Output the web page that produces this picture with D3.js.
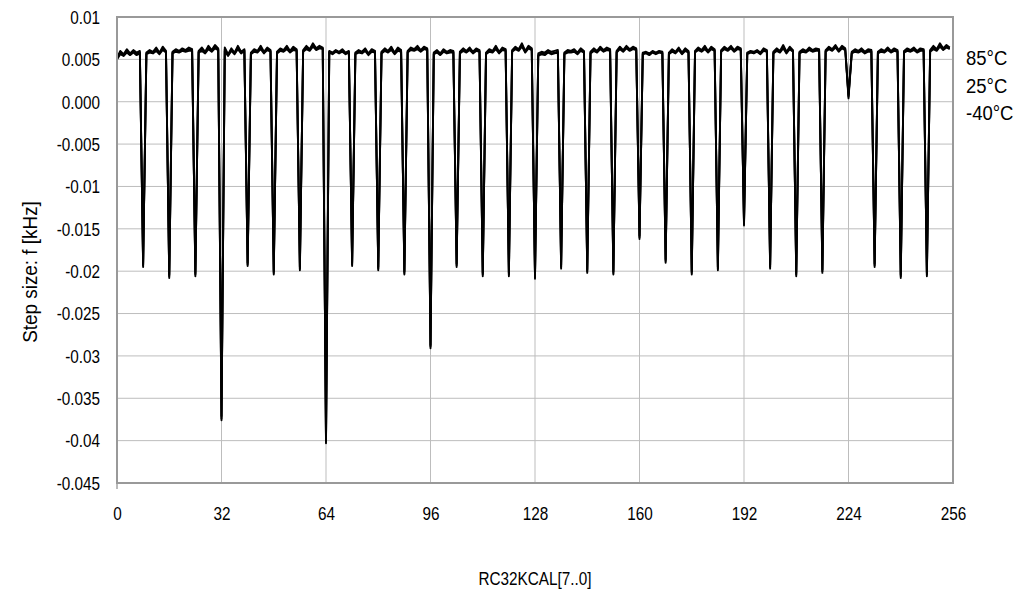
<!DOCTYPE html>
<html>
<head>
<meta charset="utf-8">
<script src="https://cdn.jsdelivr.net/npm/d3@7"></script>
<style>
  html, body { margin: 0; padding: 0; background: #fff; }
  svg { display: block; font-family: "Liberation Sans", Arial, Helvetica, sans-serif; }
</style>
</head>
<body>
<div id="chart"></div>
<script>
// step size per code, rows of 8 codes (8k .. 8k+7)
const step85 = [
  0.0052, 0.0060, 0.0056, 0.0062, 0.0057, 0.0061, 0.0058, 0.0060,
  -0.0193, 0.0058, 0.0061, 0.0059, 0.0064, 0.0058, 0.0065, 0.0060,
  -0.0206, 0.0059, 0.0062, 0.0060, 0.0063, 0.0061, 0.0064, 0.0062,
  -0.0204, 0.0060, 0.0064, 0.0059, 0.0066, 0.0061, 0.0067, 0.0063,
  -0.0374, 0.0064, 0.0056, 0.0063, 0.0058, 0.0066, 0.0059, 0.0062,
  -0.0192, 0.0058, 0.0062, 0.0060, 0.0066, 0.0059, 0.0064, 0.0061,
  -0.0202, 0.0059, 0.0063, 0.0061, 0.0066, 0.0060, 0.0065, 0.0062,
  -0.0197, 0.0061, 0.0066, 0.0062, 0.0069, 0.0063, 0.0066, 0.0064,
  -0.0401, 0.0060, 0.0058, 0.0061, 0.0059, 0.0062, 0.0058, 0.0060,
  -0.0192, 0.0058, 0.0061, 0.0059, 0.0063, 0.0057, 0.0062, 0.0060,
  -0.0197, 0.0059, 0.0063, 0.0060, 0.0065, 0.0058, 0.0064, 0.0061,
  -0.0202, 0.0060, 0.0064, 0.0062, 0.0066, 0.0061, 0.0065, 0.0063,
  -0.0289, 0.0058, 0.0061, 0.0057, 0.0062, 0.0059, 0.0061, 0.0060,
  -0.0193, 0.0059, 0.0063, 0.0060, 0.0064, 0.0059, 0.0063, 0.0061,
  -0.0204, 0.0058, 0.0062, 0.0060, 0.0066, 0.0059, 0.0064, 0.0062,
  -0.0204, 0.0061, 0.0065, 0.0062, 0.0069, 0.0060, 0.0066, 0.0063,
  -0.0207, 0.0057, 0.0059, 0.0058, 0.0061, 0.0059, 0.0060, 0.0061,
  -0.0195, 0.0058, 0.0061, 0.0060, 0.0062, 0.0058, 0.0063, 0.0060,
  -0.0200, 0.0059, 0.0063, 0.0060, 0.0065, 0.0061, 0.0064, 0.0062,
  -0.0202, 0.0060, 0.0065, 0.0061, 0.0066, 0.0062, 0.0065, 0.0063,
  -0.0160, 0.0058, 0.0059, 0.0057, 0.0060, 0.0058, 0.0060, 0.0059,
  -0.0188, 0.0058, 0.0062, 0.0059, 0.0064, 0.0058, 0.0063, 0.0060,
  -0.0202, 0.0060, 0.0064, 0.0061, 0.0066, 0.0060, 0.0065, 0.0062,
  -0.0197, 0.0061, 0.0065, 0.0062, 0.0066, 0.0061, 0.0065, 0.0063,
  -0.0144, 0.0058, 0.0060, 0.0059, 0.0061, 0.0058, 0.0063, 0.0061,
  -0.0195, 0.0059, 0.0063, 0.0060, 0.0067, 0.0059, 0.0065, 0.0061,
  -0.0204, 0.0059, 0.0062, 0.0060, 0.0064, 0.0061, 0.0063, 0.0062,
  -0.0200, 0.0061, 0.0065, 0.0062, 0.0067, 0.0061, 0.0066, 0.0063,
  0.0006, 0.0059, 0.0062, 0.0060, 0.0063, 0.0059, 0.0062, 0.0061,
  -0.0193, 0.0059, 0.0062, 0.0060, 0.0064, 0.0060, 0.0063, 0.0061,
  -0.0206, 0.0060, 0.0063, 0.0061, 0.0064, 0.0060, 0.0063, 0.0062,
  -0.0204, 0.0061, 0.0066, 0.0062, 0.0069, 0.0063, 0.0067, 0.0064
];
const step25 = [
  0.0051, 0.0058, 0.0055, 0.0060, 0.0056, 0.0059, 0.0057, 0.0058,
  -0.0191, 0.0057, 0.0059, 0.0058, 0.0062, 0.0057, 0.0063, 0.0059,
  -0.0204, 0.0058, 0.0060, 0.0059, 0.0061, 0.0060, 0.0062, 0.0061,
  -0.0202, 0.0059, 0.0062, 0.0058, 0.0064, 0.0060, 0.0065, 0.0062,
  -0.0371, 0.0062, 0.0055, 0.0061, 0.0057, 0.0064, 0.0058, 0.0061,
  -0.0190, 0.0057, 0.0060, 0.0059, 0.0064, 0.0058, 0.0062, 0.0060,
  -0.0200, 0.0058, 0.0061, 0.0060, 0.0064, 0.0059, 0.0063, 0.0061,
  -0.0195, 0.0060, 0.0064, 0.0061, 0.0067, 0.0062, 0.0064, 0.0063,
  -0.0399, 0.0059, 0.0057, 0.0060, 0.0058, 0.0060, 0.0057, 0.0059,
  -0.0190, 0.0057, 0.0059, 0.0058, 0.0061, 0.0056, 0.0060, 0.0059,
  -0.0195, 0.0058, 0.0061, 0.0059, 0.0063, 0.0057, 0.0062, 0.0060,
  -0.0200, 0.0059, 0.0062, 0.0061, 0.0064, 0.0060, 0.0063, 0.0062,
  -0.0287, 0.0057, 0.0059, 0.0056, 0.0060, 0.0058, 0.0059, 0.0059,
  -0.0191, 0.0058, 0.0061, 0.0059, 0.0062, 0.0058, 0.0061, 0.0060,
  -0.0202, 0.0057, 0.0060, 0.0059, 0.0064, 0.0058, 0.0062, 0.0061,
  -0.0202, 0.0060, 0.0063, 0.0061, 0.0067, 0.0059, 0.0064, 0.0062,
  -0.0205, 0.0055, 0.0057, 0.0056, 0.0059, 0.0057, 0.0058, 0.0059,
  -0.0193, 0.0057, 0.0059, 0.0059, 0.0060, 0.0057, 0.0061, 0.0059,
  -0.0198, 0.0058, 0.0061, 0.0059, 0.0063, 0.0060, 0.0062, 0.0061,
  -0.0200, 0.0059, 0.0063, 0.0060, 0.0064, 0.0061, 0.0063, 0.0062,
  -0.0158, 0.0057, 0.0058, 0.0056, 0.0059, 0.0057, 0.0059, 0.0058,
  -0.0186, 0.0057, 0.0060, 0.0058, 0.0062, 0.0057, 0.0061, 0.0059,
  -0.0200, 0.0059, 0.0062, 0.0060, 0.0064, 0.0059, 0.0063, 0.0061,
  -0.0195, 0.0060, 0.0063, 0.0061, 0.0064, 0.0060, 0.0063, 0.0062,
  -0.0142, 0.0057, 0.0059, 0.0058, 0.0060, 0.0057, 0.0061, 0.0060,
  -0.0193, 0.0058, 0.0061, 0.0059, 0.0065, 0.0058, 0.0063, 0.0060,
  -0.0202, 0.0058, 0.0060, 0.0059, 0.0062, 0.0060, 0.0061, 0.0061,
  -0.0198, 0.0060, 0.0063, 0.0061, 0.0065, 0.0060, 0.0064, 0.0062,
  0.0008, 0.0058, 0.0060, 0.0059, 0.0061, 0.0058, 0.0060, 0.0060,
  -0.0191, 0.0058, 0.0060, 0.0059, 0.0062, 0.0059, 0.0061, 0.0060,
  -0.0204, 0.0059, 0.0061, 0.0060, 0.0062, 0.0059, 0.0061, 0.0061,
  -0.0202, 0.0060, 0.0064, 0.0061, 0.0067, 0.0062, 0.0065, 0.0063
];
const stepM40 = [
  0.0050, 0.0056, 0.0054, 0.0058, 0.0055, 0.0058, 0.0055, 0.0057,
  -0.0195, 0.0056, 0.0058, 0.0057, 0.0060, 0.0056, 0.0061, 0.0058,
  -0.0208, 0.0057, 0.0059, 0.0058, 0.0060, 0.0059, 0.0060, 0.0060,
  -0.0206, 0.0058, 0.0060, 0.0057, 0.0062, 0.0059, 0.0063, 0.0061,
  -0.0376, 0.0060, 0.0054, 0.0060, 0.0056, 0.0062, 0.0057, 0.0060,
  -0.0194, 0.0056, 0.0059, 0.0058, 0.0062, 0.0057, 0.0061, 0.0059,
  -0.0204, 0.0057, 0.0060, 0.0059, 0.0062, 0.0058, 0.0061, 0.0060,
  -0.0199, 0.0059, 0.0062, 0.0060, 0.0065, 0.0061, 0.0063, 0.0062,
  -0.0403, 0.0058, 0.0056, 0.0059, 0.0057, 0.0059, 0.0056, 0.0058,
  -0.0194, 0.0056, 0.0058, 0.0057, 0.0060, 0.0055, 0.0059, 0.0058,
  -0.0199, 0.0057, 0.0060, 0.0058, 0.0061, 0.0056, 0.0060, 0.0059,
  -0.0204, 0.0058, 0.0061, 0.0060, 0.0062, 0.0059, 0.0062, 0.0061,
  -0.0291, 0.0056, 0.0058, 0.0055, 0.0059, 0.0057, 0.0058, 0.0058,
  -0.0195, 0.0057, 0.0060, 0.0058, 0.0061, 0.0057, 0.0060, 0.0059,
  -0.0206, 0.0056, 0.0059, 0.0058, 0.0062, 0.0057, 0.0061, 0.0060,
  -0.0206, 0.0059, 0.0062, 0.0060, 0.0065, 0.0058, 0.0063, 0.0061,
  -0.0209, 0.0054, 0.0056, 0.0055, 0.0058, 0.0056, 0.0057, 0.0058,
  -0.0197, 0.0056, 0.0058, 0.0058, 0.0059, 0.0056, 0.0060, 0.0058,
  -0.0202, 0.0057, 0.0060, 0.0058, 0.0062, 0.0059, 0.0061, 0.0060,
  -0.0204, 0.0058, 0.0062, 0.0059, 0.0063, 0.0060, 0.0062, 0.0061,
  -0.0162, 0.0056, 0.0057, 0.0055, 0.0058, 0.0056, 0.0058, 0.0057,
  -0.0190, 0.0056, 0.0059, 0.0057, 0.0061, 0.0056, 0.0060, 0.0058,
  -0.0204, 0.0058, 0.0061, 0.0059, 0.0062, 0.0058, 0.0062, 0.0060,
  -0.0199, 0.0059, 0.0062, 0.0060, 0.0063, 0.0059, 0.0062, 0.0061,
  -0.0146, 0.0056, 0.0058, 0.0057, 0.0059, 0.0056, 0.0060, 0.0059,
  -0.0197, 0.0057, 0.0060, 0.0058, 0.0063, 0.0057, 0.0062, 0.0059,
  -0.0206, 0.0057, 0.0059, 0.0058, 0.0061, 0.0059, 0.0060, 0.0060,
  -0.0202, 0.0059, 0.0062, 0.0060, 0.0064, 0.0059, 0.0063, 0.0061,
  0.0004, 0.0057, 0.0059, 0.0058, 0.0060, 0.0057, 0.0059, 0.0059,
  -0.0195, 0.0057, 0.0059, 0.0058, 0.0061, 0.0058, 0.0060, 0.0059,
  -0.0208, 0.0058, 0.0060, 0.0059, 0.0061, 0.0058, 0.0060, 0.0060,
  -0.0206, 0.0059, 0.0062, 0.0060, 0.0065, 0.0061, 0.0064, 0.0062
];
const seriesNames = ['85°C', '25°C', '-40°C'];
const yTicks = [0.01, 0.005, 0, -0.005, -0.01, -0.015, -0.02, -0.025, -0.03, -0.035, -0.04, -0.045];
const yTickLabels = ['0.01', '0.005', '0.000', '-0.005', '-0.01', '-0.015', '-0.02', '-0.025', '-0.03', '-0.035', '-0.04', '-0.045'];
const xTicks = [0, 32, 64, 96, 128, 160, 192, 224, 256];

const width = 1016, height = 596;
const margin = { top: 17, right: 63, bottom: 113, left: 117 };
const innerW = width - margin.left - margin.right;
const innerH = height - margin.top - margin.bottom;
const narrow = 0.85; // the original lettering is a condensed face

const svg = d3.select('#chart').append('svg').attr('width', width).attr('height', height);
const g = svg.append('g').attr('transform', `translate(${margin.left},${margin.top})`);

const x = d3.scaleLinear([0, 256], [0, innerW]);
const y = d3.scaleLinear([-0.045, 0.01], [innerH, 0]);

// grid
g.append('g').selectAll('line').data(yTicks.slice(1, -1)).join('line')
  .attr('x1', 0).attr('x2', innerW).attr('y1', (d) => y(d)).attr('y2', (d) => y(d))
  .attr('stroke', '#bdbdbd').attr('stroke-width', 1);
g.append('g').selectAll('line').data(xTicks.slice(1, -1)).join('line')
  .attr('y1', 0).attr('y2', innerH).attr('x1', (d) => x(d)).attr('x2', (d) => x(d))
  .attr('stroke', '#bdbdbd').attr('stroke-width', 1);

// axes (labels only, ticks hidden)
const yAxis = g.append('g').call(d3.axisLeft(y).tickValues(yTicks).tickSize(0).tickPadding(0)
  .tickFormat((d, i) => yTickLabels[i]));
const xAxis = g.append('g').attr('transform', `translate(0,${innerH})`)
  .call(d3.axisBottom(x).tickValues(xTicks).tickSize(0).tickPadding(0));
[yAxis, xAxis].forEach((a) => {
  a.select('.domain').remove();
  a.selectAll('text').attr('font-size', 18).attr('fill', '#000')
    .attr('font-family', '"Liberation Sans", Arial, sans-serif');
});
yAxis.selectAll('text').attr('x', null).attr('dy', '0.35em')
  .attr('transform', `translate(-17,0) scale(${narrow},1)`);
xAxis.selectAll('text').attr('y', null).attr('dy', '0.35em')
  .attr('transform', `translate(0,31) scale(${narrow},1)`);
g.append('line').attr('x1', x(0)).attr('x2', x(0)).attr('y1', innerH).attr('y2', innerH + 6)
  .attr('stroke', '#777').attr('stroke-width', 1);

// series lines
const line = d3.line().x((d, i) => x(i)).y((d) => y(d));
[step85, step25, stepM40].forEach((s) => {
  g.append('path').datum(s).attr('fill', 'none').attr('stroke', '#000')
    .attr('stroke-width', 1.9).attr('stroke-linejoin', 'round').attr('d', line);
});

// frame
g.append('rect').attr('width', innerW).attr('height', innerH)
  .attr('fill', 'none').attr('stroke', '#999').attr('stroke-width', 2);

// legend labels
svg.append('g').selectAll('text').data(seriesNames).join('text')
  .attr('transform', (d, i) => `translate(966,${65 + i * 27.5}) scale(0.88,1)`)
  .attr('font-size', 21).text((d) => d);

// axis titles
svg.append('text').attr('transform', 'translate(37,272) rotate(-90) scale(0.9,1)')
  .attr('text-anchor', 'middle').attr('font-size', 21).text('Step size: f [kHz]');
svg.append('text').attr('transform', `translate(535,585) scale(${narrow},1)`)
  .attr('text-anchor', 'middle').attr('font-size', 18).text('RC32KCAL[7..0]');
</script>
</body>
</html>
